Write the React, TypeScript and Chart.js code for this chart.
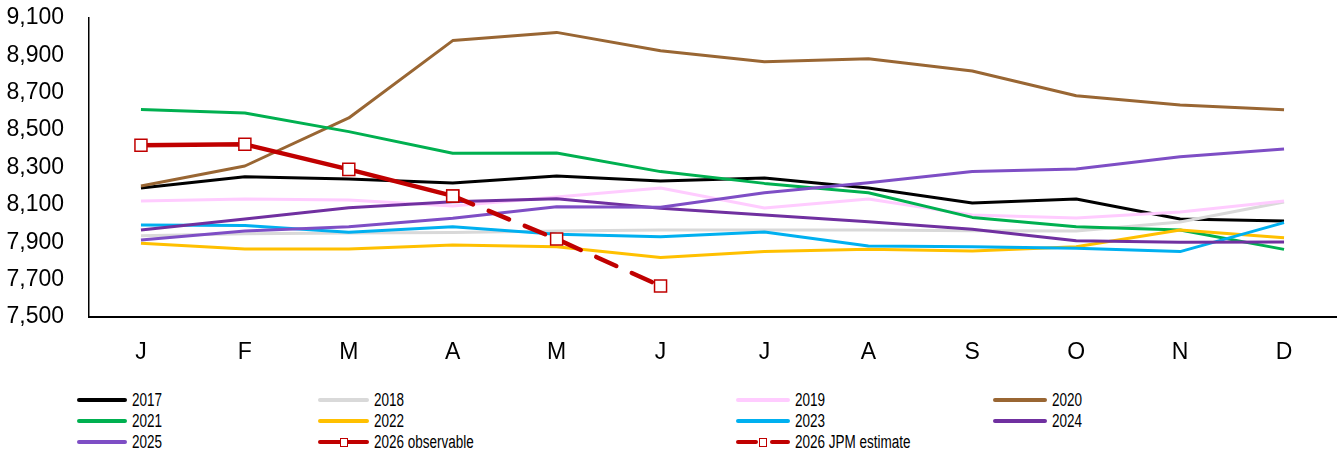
import React, { useEffect, useRef } from 'react';
import { Chart, registerables } from 'chart.js';

Chart.register(...registerables);

const months = ['J', 'F', 'M', 'A', 'M', 'J', 'J', 'A', 'S', 'O', 'N', 'D'];
const yTicks = [7500, 7700, 7900, 8100, 8300, 8500, 8700, 8900, 9100];

const y2017 = [8190, 8250, 8238, 8217, 8255, 8228, 8244, 8190, 8110, 8131, 8024, 8014];
const y2018 = [7935, 7945, 7950, 7952, 7960, 7965, 7965, 7965, 7962, 7960, 8008, 8115];
const y2019 = [8121, 8131, 8126, 8094, 8142, 8190, 8083, 8131, 8046, 8030, 8062, 8121];
const y2020 = [8201, 8308, 8565, 8979, 9023, 8925, 8866, 8882, 8816, 8684, 8634, 8609];
const y2021 = [8611, 8592, 8492, 8376, 8378, 8278, 8215, 8165, 8033, 7983, 7966, 7862];
const y2022 = [7894, 7864, 7864, 7885, 7876, 7819, 7850, 7862, 7853, 7876, 7966, 7924];
const y2023 = [7992, 7990, 7953, 7983, 7943, 7930, 7955, 7880, 7876, 7868, 7850, 8005];
const y2024 = [7966, 8024, 8085, 8117, 8133, 8082, 8046, 8010, 7969, 7908, 7900, 7901];
const y2025 = [7912, 7960, 7983, 8028, 8090, 8087, 8165, 8219, 8278, 8292, 8358, 8399];
const y2026obs = [8419, 8424, 8290, 8148, null, null, null, null, null, null, null, null];
const y2026est = [null, null, null, 8148, 7917, 7666, null, null, null, null, null, null];

const seriesNames = ['2017', '2018', '2019', '2020', '2021', '2022', '2023', '2024', '2025', '2026 observable', '2026 JPM estimate'];
const seriesColors = ['#000000', '#d9d9d9', '#ffccff', '#996633', '#00b050', '#ffc000', '#00b0f0', '#7030a0', '#7e4ec5', '#c00000', '#c00000'];
const seriesValues = [y2017, y2018, y2019, y2020, y2021, y2022, y2023, y2024, y2025, y2026obs, y2026est];

const RED = '#c00000';
const TICK_FONT = { family: '"Liberation Sans", Arial, sans-serif', size: 23 };
const LEGEND_FONT = '"Liberation Sans", Arial, sans-serif';

// legend layout: 4 columns, 3 rows
const legendCols = [
  { line: 77, text: 132 },
  { line: 318, text: 374 },
  { line: 736, text: 795 },
  { line: 993, text: 1052 },
];
const legendRows = [400, 421, 442];

function LegendItem({ idx }: { idx: number }) {
  const col = legendCols[idx % 4];
  const rowY = legendRows[Math.floor(idx / 4)];
  const color = seriesColors[idx];
  const name = seriesNames[idx];
  const lineW = col.text - col.line - 5;
  const bar = (left: number, width: number) => (
    <div
      style={{
        position: 'absolute',
        left,
        top: rowY - 2.25,
        width,
        height: 4.5,
        background: color,
        borderRadius: 2.25,
      }}
    />
  );
  const square = (cx: number) => (
    <div
      style={{
        position: 'absolute',
        left: cx - 4,
        top: rowY - 4.5,
        width: 8,
        height: 9,
        boxSizing: 'border-box',
        background: '#fff',
        border: `1.5px solid ${RED}`,
      }}
    />
  );
  let sample: React.ReactNode;
  if (idx === 9) {
    sample = (
      <>
        {bar(col.line, lineW)}
        {square(col.line + lineW / 2)}
      </>
    );
  } else if (idx === 10) {
    sample = (
      <>
        {bar(col.line, 22)}
        {bar(col.line + lineW - 20, 20)}
        {square(col.line + 27)}
      </>
    );
  } else {
    sample = bar(col.line, lineW);
  }
  return (
    <>
      {sample}
      <div
        style={{
          position: 'absolute',
          left: col.text,
          top: rowY - 10,
          height: 20,
          lineHeight: '20px',
          fontFamily: LEGEND_FONT,
          fontSize: 18,
          color: '#000',
          whiteSpace: 'nowrap',
          transform: 'scaleX(0.75)',
          transformOrigin: 'left center',
        }}
      >
        {name}
      </div>
    </>
  );
}

export default function App() {
  const canvasRef = useRef<HTMLCanvasElement | null>(null);

  useEffect(() => {
    if (!canvasRef.current) return;
    const datasets = seriesValues.map((vals, i) => {
      const isObs = i === 9;
      const isEst = i === 10;
      const is26 = isObs || isEst;
      return {
        label: seriesNames[i],
        data: vals,
        borderColor: seriesColors[i],
        backgroundColor: seriesColors[i],
        borderWidth: is26 ? 4.5 : 3,
        borderDash: isEst ? [22, 17] : [],
        borderCapStyle: (isEst ? 'round' : 'butt') as CanvasLineCap,
        borderJoinStyle: 'round' as CanvasLineJoin,
        tension: 0,
        fill: false,
        spanGaps: false,
        pointStyle: 'rect' as const,
        pointRadius: is26 ? 8.5 : 0,
        pointHoverRadius: is26 ? 8.5 : 0,
        pointBackgroundColor: '#ffffff',
        pointBorderColor: RED,
        pointBorderWidth: 1.5,
        order: 20 - i,
      };
    });

    const chart = new Chart(canvasRef.current, {
      type: 'line',
      data: { labels: months, datasets },
      options: {
        animation: false,
        responsive: false,
        devicePixelRatio: 1,
        layout: { padding: { left: 0, right: 0, top: 18, bottom: 0 } },
        plugins: {
          legend: { display: false },
          tooltip: { enabled: false },
          title: { display: false },
        },
        scales: {
          x: {
            type: 'category',
            offset: true,
            grid: { display: false, drawTicks: false, tickLength: 0 },
            border: { display: true, color: '#000', width: 2 },
            ticks: {
              color: '#000',
              font: TICK_FONT,
              padding: 22,
              autoSkip: false,
              maxRotation: 0,
            },
            afterFit: (scale: any) => {
              scale.height = 63;
              scale.paddingLeft = 0;
              scale.paddingRight = 0;
            },
          },
          y: {
            type: 'linear',
            min: 7500,
            max: 9100,
            afterBuildTicks: (scale: any) => {
              scale.ticks = yTicks.map((v) => ({ value: v }));
            },
            grid: { display: false, drawTicks: false, tickLength: 0 },
            border: { display: true, color: '#000', width: 1.5 },
            ticks: {
              color: '#000',
              font: TICK_FONT,
              padding: 25,
              callback: (v: any) => Number(v).toLocaleString('en-US'),
            },
            afterFit: (scale: any) => {
              scale.width = 89;
              scale.paddingTop = 0;
              scale.paddingBottom = 0;
            },
          },
        },
      },
    });
    return () => chart.destroy();
  }, []);

  return (
    <div style={{ position: 'absolute', left: 0, top: 0, width: 1339, height: 462, background: '#fff', overflow: 'hidden' }}>
      <canvas ref={canvasRef} width={1346} height={380} style={{ position: 'absolute', left: 0, top: 0, display: 'block' }} />
      {seriesNames.map((_, i) => (
        <LegendItem key={i} idx={i} />
      ))}
    </div>
  );
}
